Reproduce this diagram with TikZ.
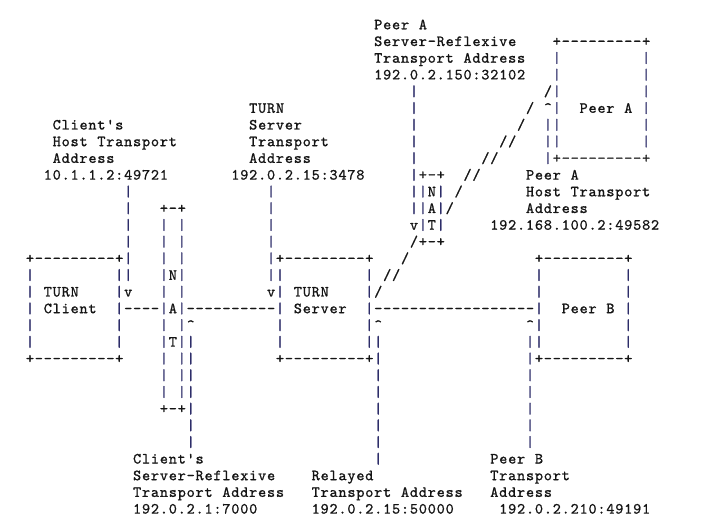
\documentclass[tikz,border=0pt]{standalone}
\usepackage{fontspec}
\setmonofont{lmmono10-regular.otf}[FakeBold=1]
\definecolor{ink}{RGB}{20,20,20}
\definecolor{barblue}{RGB}{45,45,105}
\def\XO{3.2}\def\PW{8.93}\def\YB{29.3}\def\LH{16.7}
\def\mk#1{\ifx#1\relax\else\makebox[\PW pt][c]{#1}\expandafter\mk\fi}
\newcommand\T[3]{\node[txt] (t#1r#2) at ({\XO+\PW*(#1)-\PW/2},{-(\YB+\LH*(#2))}) {\mk#3\relax};}
\newcommand\B[2]{\node[bartxt] (b#1r#2) at ({\XO+\PW*(#1)-\PW/2},{-(\YB+\LH*(#2))}) {\mk|\relax};}
\newcommand\VB[3]{\foreach \rr in {#2,...,#3}{\B{#1}{\rr}}}
\newcommand\BOX[4]{% c1 c2 r1 r2
  \T{#1}{#3}{+---------+}\T{#1}{#4}{+---------+}%
  \pgfmathtruncatemacro\ra{#3+1}\pgfmathtruncatemacro\rb{#4-1}%
  \VB{#1}{\ra}{\rb}\VB{#2}{\ra}{\rb}}
\newcommand\asciifont{\ttfamily\fontsize{15.5}{16.7}\selectfont}
\begin{document}
\begin{tikzpicture}[x=1pt,y=1pt,
  txt/.style={anchor=base west,inner sep=0pt,outer sep=0pt,
    font=\asciifont,text=ink},
  bartxt/.style={txt,text=barblue}]
\useasboundingbox (0,0) rectangle (716,-524);
% Peer A server-reflexive label and Peer A box
\T{42}{0}{Peer~A}
\T{42}{1}{Server-Reflexive}
\T{42}{2}{Transport~Address}
\T{42}{3}{192.0.2.150:32102}
\BOX{62}{72}{1}{8}
\T{65}{5}{Peer~A}
\VB{46}{4}{11}\T{46}{12}{v}
% diagonal path
\T{61}{4}{/}\T{59}{5}{/}\T{58}{6}{/}\T{56}{7}{//}\T{54}{8}{//}\T{52}{9}{//}
\T{51}{10}{/}\T{50}{11}{/}\T{46}{13}{/}\T{45}{14}{/}\T{43}{15}{//}\T{42}{16}{/}
% Peer A host transport address
\T{61}{5}{\textasciicircum}\VB{61}{6}{8}
\T{59}{9}{Peer~A}
\T{59}{10}{Host~Transport}
\T{59}{11}{Address}
\T{55}{12}{192.168.100.2:49582}
% NAT (Peer A side)
\T{47}{9}{+-+}\VB{47}{10}{12}\VB{49}{10}{12}
\T{48}{10}{N}\T{48}{11}{A}\T{48}{12}{T}
\T{47}{13}{+-+}
% TURN server transport address
\T{28}{5}{TURN}\T{28}{6}{Server}\T{28}{7}{Transport}\T{28}{8}{Address}
\T{26}{9}{192.0.2.15:3478}
\VB{30}{10}{15}\T{30}{16}{v}
% Client host transport address
\T{6}{6}{Client's}\T{6}{7}{Host~Transport}\T{6}{8}{Address}
\T{5}{9}{10.1.1.2:49721}
\VB{14}{10}{15}\T{14}{16}{v}
% NAT (client side)
\T{18}{11}{+-+}\VB{18}{12}{22}\VB{20}{12}{22}
\T{19}{15}{N}\T{19}{17}{A}\T{19}{19}{T}
\T{18}{23}{+-+}
% boxes
\BOX{3}{13}{14}{20}
\T{5}{16}{TURN}\T{5}{17}{Client}
\BOX{31}{41}{14}{20}
\T{33}{16}{TURN}\T{33}{17}{Server}
\BOX{60}{70}{14}{20}
\T{63}{17}{Peer~B}
% horizontal links
\T{14}{17}{----}
\T{21}{17}{----------}
\T{42}{17}{------------------}
% upward pointers
\T{21}{18}{\textasciicircum}\VB{21}{19}{25}
\T{42}{18}{\textasciicircum}\VB{42}{19}{26}
\T{59}{18}{\textasciicircum}\VB{59}{19}{25}
% bottom labels
\T{15}{26}{Client's}\T{15}{27}{Server-Reflexive}
\T{15}{28}{Transport~Address}\T{15}{29}{192.0.2.1:7000}
\T{35}{27}{Relayed}\T{35}{28}{Transport~Address}\T{35}{29}{192.0.2.15:50000}
\T{55}{26}{Peer~B}\T{55}{27}{Transport}\T{55}{28}{Address}
\T{56}{29}{192.0.2.210:49191}
\end{tikzpicture}
\end{document}
